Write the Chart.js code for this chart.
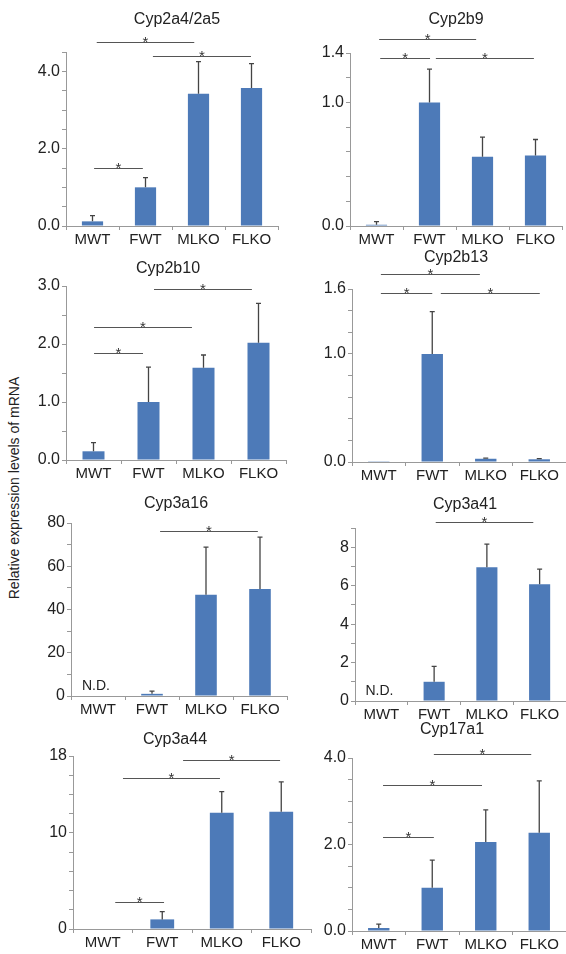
<!DOCTYPE html>
<html>
<head>
<meta charset="utf-8">
<script src="https://cdn.jsdelivr.net/npm/chart.js@4.4.1/dist/chart.umd.min.js"></script>
<style>
  body { margin: 0; background: #fff; overflow: hidden; width: 566px; height: 954px; position: relative;
         font-family: "Liberation Sans", Arial, sans-serif; }
  canvas { position: absolute; }
  #ylab { position: absolute; left: 14px; top: 488px; transform: translate(-50%, -50%) rotate(-90deg);
          font-size: 14px; white-space: nowrap; color: #222; }
</style>
</head>
<body>
<div id="ylab">Relative expression levels of mRNA</div>
<script>
// groups on the x axis
const groups = ['MWT', 'FWT', 'MLKO', 'FLKO'];

// panel titles
const genes = ['Cyp2a4/2a5', 'Cyp2b9', 'Cyp2b10', 'Cyp2b13', 'Cyp3a16', 'Cyp3a41', 'Cyp3a44', 'Cyp17a1'];

// means (null = N.D.) and SD
const cyp2a4Mean = [0.12, 1.0, 3.42, 3.57];
const cyp2a4Sd   = [0.15, 0.25, 0.83, 0.63];
const cyp2b9Mean = [0.01, 1.0, 0.56, 0.57];
const cyp2b9Sd   = [0.025, 0.27, 0.16, 0.13];
const cyp2b10Mean = [0.15, 1.0, 1.59, 2.02];
const cyp2b10Sd   = [0.15, 0.6, 0.22, 0.68];
const cyp2b13Mean = [0.002, 1.0, 0.03, 0.025];
const cyp2b13Sd   = [0, 0.39, 0.006, 0.006];
const cyp3a16Mean = [null, 1.0, 46.8, 49.5];
const cyp3a16Sd   = [0, 1.3, 22, 24];
const cyp3a41Mean = [null, 1.0, 6.96, 6.08];
const cyp3a41Sd   = [0, 0.8, 1.2, 0.78];
const cyp3a44Mean = [0, 1.0, 12.1, 12.2];
const cyp3a44Sd   = [0, 0.8, 2.2, 3.1];
const cyp17a1Mean = [0.07, 1.0, 2.06, 2.27];
const cyp17a1Sd   = [0.09, 0.64, 0.74, 1.2];

// significance bars: [from group, to group, height in axis units]
const cyp2a4Sig  = [[0.03, 0.95, 1.51], [0.08, 1.92, 4.75], [1.14, 2.99, 4.39]];
const cyp2b9Sig  = [[0.05, 1.88, 1.51], [0.07, 1.01, 1.36], [1.12, 2.97, 1.36]];
const cyp2b10Sig = [[1.1, 2.88, 2.95], [0.01, 1.79, 2.29], [0.01, 0.9, 1.84]];
const cyp2b13Sig = [[0.04, 1.89, 1.74], [0.04, 1.0, 1.56], [1.16, 3.01, 1.56]];
const cyp3a16Sig = [[1.15, 2.96, 76.4]];
const cyp3a41Sig = [[1.03, 2.88, 9.3]];
const cyp3a44Sig = [[0.21, 1.03, 2.8], [0.34, 1.97, 15.7], [1.35, 2.98, 17.6]];
const cyp17a1Sig = [[1.03, 2.85, 4.1], [0.08, 1.93, 3.37], [0.08, 1.03, 2.17]];

// y axes: max, minor step, labelled ticks, decimals
const axisMax = [4.5, 1.4, 3.0, 1.6, 80, 9, 18, 4.0];
const axisStep = [0.5, 0.2, 0.5, 0.2, 10, 1, 2, 0.5];
const axisLabels = [[0, 2, 4], [0, 1, 1.4], [0, 1, 2, 3], [0, 1, 1.6], [0, 20, 40, 60, 80], [0, 2, 4, 6, 8], [0, 10, 18], [0, 2, 4]];
const axisDecimals = [1, 1, 1, 1, 0, 0, 0, 1];

const means = [cyp2a4Mean, cyp2b9Mean, cyp2b10Mean, cyp2b13Mean, cyp3a16Mean, cyp3a41Mean, cyp3a44Mean, cyp17a1Mean];
const sds = [cyp2a4Sd, cyp2b9Sd, cyp2b10Sd, cyp2b13Sd, cyp3a16Sd, cyp3a41Sd, cyp3a44Sd, cyp17a1Sd];
const sigs = [cyp2a4Sig, cyp2b9Sig, cyp2b10Sig, cyp2b13Sig, cyp3a16Sig, cyp3a41Sig, cyp3a44Sig, cyp17a1Sig];

// plot boxes on the page: left, top, right, bottom, title x, title y
const boxes = [
  [66, 52, 278, 226, 177, 20],
  [350, 53, 562, 226, 456, 20],
  [66, 286, 286, 460, 168, 269],
  [352, 289, 566, 462, 456, 258],
  [71, 523, 287, 696, 176, 504],
  [355, 528, 566, 701, 465, 505],
  [73, 756, 311, 929, 175, 740],
  [352, 758, 566, 931, 452, 730],
];

const AX_W = 46, AX_H = 26, PAD_T = 54, PAD_R = 6;
const FONT = '"Liberation Sans", Arial, sans-serif';
const barColor = '#4d7ab8';
const lineColor = '#555';

// error bars, significance lines, N.D. and the title
const extras = {
  id: 'extras',
  afterDatasetsDraw(chart, args, opts) {
    const ctx = chart.ctx;
    const x = chart.scales.x, y = chart.scales.y;
    const m = means[opts.idx], s = sds[opts.idx];
    ctx.save();
    ctx.strokeStyle = '#444';
    ctx.lineWidth = 1.3;
    m.forEach((v, i) => {
      const cx = x.getPixelForValue(i);
      if (v === null) {
        ctx.fillStyle = '#222';
        ctx.font = '14px ' + FONT;
        ctx.textAlign = 'center';
        ctx.textBaseline = 'bottom';
        ctx.fillText('N.D.', cx - 2, y.getPixelForValue(0) - 3);
        return;
      }
      if (!s[i]) return;
      const y0 = y.getPixelForValue(v);
      const y1 = y.getPixelForValue(v + s[i]);
      ctx.beginPath();
      ctx.moveTo(cx, y0);
      ctx.lineTo(cx, y1);
      ctx.moveTo(cx - 2.5, y1);
      ctx.lineTo(cx + 2.5, y1);
      ctx.stroke();
    });
    ctx.strokeStyle = lineColor;
    ctx.lineWidth = 1.2;
    ctx.fillStyle = '#333';
    ctx.font = '15px ' + FONT;
    ctx.textAlign = 'center';
    ctx.textBaseline = 'alphabetic';
    sigs[opts.idx].forEach(([a, b, h]) => {
      const xa = x.getPixelForValue(a), xb = x.getPixelForValue(b);
      const yy = Math.round(y.getPixelForValue(h)) + 0.5;
      ctx.beginPath();
      ctx.moveTo(xa, yy);
      ctx.lineTo(xb, yy);
      ctx.stroke();
      ctx.fillText('*', (xa + xb) / 2, yy + 4);
    });
    const bx = boxes[opts.idx];
    ctx.fillStyle = '#222';
    ctx.font = '16px ' + FONT;
    ctx.textBaseline = 'middle';
    ctx.fillText(genes[opts.idx], bx[4] - (bx[0] - AX_W), bx[5] - (bx[1] - PAD_T));
    ctx.restore();
  }
};

boxes.forEach((bx, idx) => {
  const [L, T, R, B] = bx;
  const cv = document.createElement('canvas');
  const w = R - L + AX_W + PAD_R, h = B - T + PAD_T + AX_H;
  cv.width = w; cv.height = h;
  cv.style.left = (L - AX_W) + 'px';
  cv.style.top = (T - PAD_T) + 'px';
  cv.style.width = w + 'px';
  cv.style.height = h + 'px';
  document.body.appendChild(cv);

  new Chart(cv.getContext('2d'), {
    type: 'bar',
    data: {
      labels: groups,
      datasets: [{
        data: means[idx],
        backgroundColor: barColor,
        borderWidth: 0,
        barPercentage: 0.4,
        categoryPercentage: 1.0,
      }],
    },
    options: {
      responsive: false,
      animation: false,
      layout: { padding: { top: PAD_T, right: PAD_R, left: 0, bottom: 0 } },
      plugins: {
        legend: { display: false },
        tooltip: { enabled: false },
        extras: { idx },
      },
      scales: {
        x: {
          grid: { drawOnChartArea: false, drawTicks: true, tickLength: 4, color: '#999', offset: true },
          border: { color: '#999' },
          ticks: { font: { size: 15, family: FONT }, color: '#222', padding: 1, maxRotation: 0, autoSkip: false },
          afterFit: (s) => { s.height = AX_H; },
        },
        y: {
          min: 0,
          max: axisMax[idx],
          grid: { drawOnChartArea: false, tickLength: 4, color: '#999' },
          border: { color: '#999' },
          ticks: {
            stepSize: axisStep[idx],
            autoSkip: false,
            font: { size: 16, family: FONT },
            color: '#222',
            padding: 2,
            callback: (v) => axisLabels[idx].some(t => Math.abs(t - v) < 1e-6) ? Number(v).toFixed(axisDecimals[idx]) : '',
          },
          afterFit: (s) => { s.width = AX_W; },
        },
      },
    },
    plugins: [extras],
  });
});
</script>
</body>
</html>
